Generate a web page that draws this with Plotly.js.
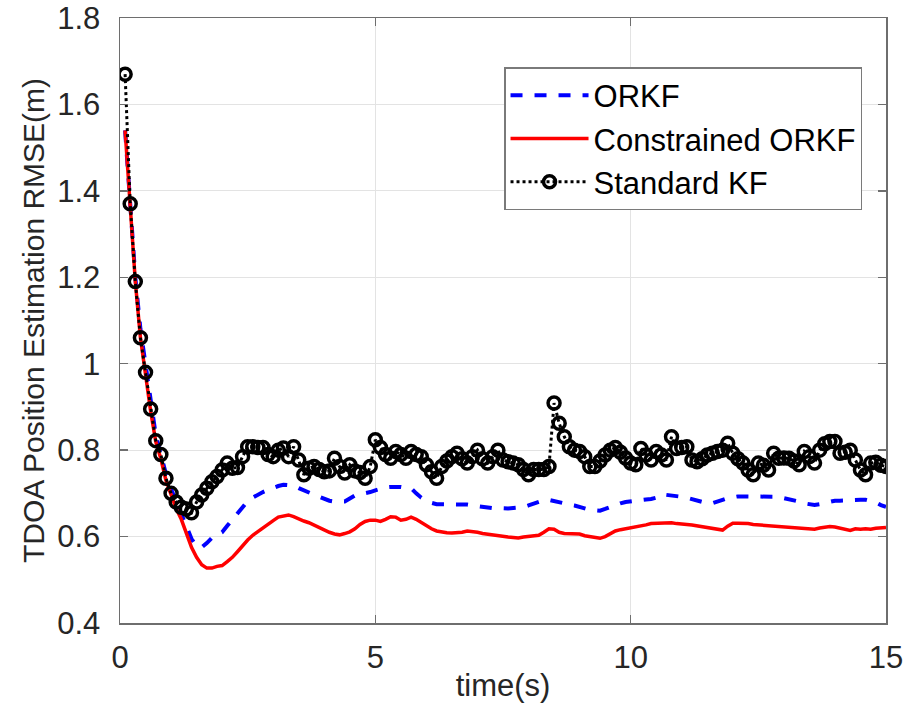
<!DOCTYPE html>
<html>
<head>
<meta charset="utf-8">
<script src="https://cdn.plot.ly/plotly-3.0.1.min.js"></script>
<style>html,body{margin:0;padding:0;background:#fff;}#chart{width:907px;height:708px;}</style>
</head>
<body>
<div id="chart"></div>
<script>
// time axis: 0.1 s steps from 0.1 to 15.0
const timeStart = 0.1, timeStep = 0.1;

const orkf = [
 1.54,1.38,1.20,1.08,0.995,0.91,0.835,0.79,0.745,0.71,
 0.68,0.655,0.625,0.595,0.577,0.575,0.585,0.597,0.604,0.61,
 0.625,0.64,0.655,0.67,0.682,0.69,0.697,0.703,0.708,0.713,
 0.717,0.72,0.72,0.718,0.712,0.706,0.702,0.697,0.692,0.687,
 0.683,0.681,0.68,0.681,0.688,0.695,0.698,0.70,0.703,0.707,
 0.711,0.714,0.715,0.716,0.715,0.713,0.712,0.70,0.69,0.684,
 0.678,0.675,0.675,0.674,0.674,0.674,0.674,0.674,0.672,0.67,
 0.668,0.667,0.666,0.666,0.665,0.665,0.666,0.666,0.668,0.672,
 0.676,0.68,0.684,0.685,0.682,0.678,0.675,0.674,0.672,0.668,
 0.665,0.662,0.661,0.66,0.664,0.669,0.674,0.677,0.68,0.682,
 0.684,0.685,0.686,0.687,0.69,0.698,0.697,0.695,0.694,0.692,
 0.69,0.687,0.682,0.679,0.677,0.677,0.68,0.685,0.689,0.692,
 0.693,0.693,0.693,0.694,0.694,0.694,0.694,0.693,0.692,0.689,
 0.687,0.685,0.681,0.677,0.674,0.673,0.675,0.678,0.681,0.683,
 0.683,0.684,0.684,0.685,0.685,0.685,0.683,0.679,0.673,0.669
];

const constrainedOrkf = [
 1.54,1.37,1.19,1.06,0.975,0.89,0.82,0.78,0.73,0.695,
 0.665,0.64,0.605,0.575,0.552,0.535,0.527,0.527,0.531,0.533,
 0.542,0.552,0.565,0.58,0.592,0.603,0.612,0.62,0.628,0.637,
 0.645,0.648,0.65,0.646,0.64,0.636,0.632,0.626,0.62,0.615,
 0.61,0.606,0.604,0.607,0.611,0.618,0.628,0.635,0.638,0.638,
 0.635,0.64,0.646,0.645,0.638,0.64,0.645,0.64,0.632,0.625,
 0.618,0.613,0.61,0.609,0.608,0.608,0.61,0.613,0.612,0.61,
 0.607,0.605,0.603,0.601,0.60,0.599,0.598,0.597,0.599,0.60,
 0.601,0.603,0.61,0.618,0.617,0.61,0.607,0.607,0.606,0.606,
 0.602,0.60,0.598,0.596,0.60,0.606,0.613,0.616,0.618,0.619,
 0.621,0.623,0.627,0.63,0.631,0.632,0.633,0.632,0.63,0.628,
 0.628,0.627,0.625,0.624,0.622,0.62,0.617,0.615,0.624,0.631,
 0.631,0.631,0.63,0.628,0.627,0.626,0.625,0.625,0.624,0.623,
 0.622,0.621,0.62,0.618,0.617,0.617,0.62,0.622,0.623,0.622,
 0.62,0.616,0.614,0.618,0.617,0.618,0.617,0.619,0.62,0.621
];

const standardKf = [
 1.67,1.37,1.19,1.06,0.98,0.895,0.822,0.79,0.735,0.70,
 0.68,0.668,0.664,0.655,0.68,0.696,0.712,0.727,0.739,0.754,
 0.77,0.758,0.76,0.785,0.808,0.808,0.806,0.806,0.79,0.785,
 0.80,0.805,0.785,0.808,0.777,0.743,0.758,0.762,0.755,0.75,
 0.752,0.781,0.762,0.747,0.766,0.752,0.748,0.735,0.762,0.824,
 0.806,0.79,0.781,0.797,0.79,0.781,0.797,0.79,0.785,0.766,
 0.75,0.735,0.762,0.775,0.785,0.793,0.78,0.77,0.785,0.80,
 0.78,0.77,0.785,0.80,0.777,0.773,0.77,0.766,0.755,0.743,
 0.755,0.755,0.755,0.762,0.909,0.862,0.831,0.808,0.80,0.797,
 0.785,0.762,0.762,0.775,0.789,0.80,0.806,0.795,0.782,0.77,
 0.766,0.804,0.789,0.777,0.797,0.789,0.777,0.831,0.804,0.806,
 0.808,0.777,0.773,0.78,0.789,0.793,0.797,0.80,0.816,0.793,
 0.78,0.77,0.754,0.743,0.77,0.765,0.754,0.793,0.781,0.782,
 0.781,0.775,0.766,0.797,0.785,0.77,0.80,0.815,0.82,0.82,
 0.793,0.795,0.80,0.777,0.754,0.743,0.77,0.772,0.765,0.762
];

const seriesNames = ["ORKF", "Constrained ORKF", "Standard KF"];
const xTickVals = [0, 5, 10, 15];
const yTickVals = [0.4, 0.6, 0.8, 1.0, 1.2, 1.4, 1.6, 1.8];
const yTickText = ["0.4", "0.6", "0.8", "1", "1.2", "1.4", "1.6", "1.8"];

const time = standardKf.map((_, i) => +(timeStart + i * timeStep).toFixed(1));

const tickFont = {family: "'Liberation Sans Narrow', 'Liberation Sans', Arial, sans-serif", size: 31, color: "#262626"};

const traces = [
  {x: time, y: orkf, name: seriesNames[0], mode: "lines", type: "scatter",
   line: {color: "#0000ff", width: 4, dash: "dash"}},
  {x: time, y: constrainedOrkf, name: seriesNames[1], mode: "lines", type: "scatter",
   line: {color: "#ff0000", width: 3.5}},
  {x: time, y: standardKf, name: seriesNames[2], mode: "lines+markers", type: "scatter",
   line: {color: "#000000", width: 3, dash: "dot"},
   marker: {symbol: "circle-open", size: 12, color: "#000000", line: {width: 3.5, color: "#000000"}}}
];

const layout = {
  width: 907, height: 708,
  margin: {l: 120, r: 21, t: 18, b: 85},
  paper_bgcolor: "#ffffff", plot_bgcolor: "#ffffff",
  showlegend: true,
  legend: {x: 0.9687, y: 0.919, xanchor: "right", yanchor: "top",
    bgcolor: "#ffffff", bordercolor: "#7a7a7a", borderwidth: 1.5,
    font: {family: "'Liberation Sans', Arial, sans-serif", size: 31, color: "#000000"},
    itemwidth: 78, tracegroupgap: 0},
  xaxis: {range: [0, 15], tickvals: xTickVals, ticktext: xTickVals.map(String),
    showgrid: true, gridcolor: "#e3e3e3", gridwidth: 1,
    showline: true, linecolor: "#6e6e6e", linewidth: 1.5, mirror: "ticks",
    ticks: "inside", ticklen: 8, tickcolor: "#6e6e6e", tickwidth: 1.5,
    zeroline: false, tickfont: tickFont, ticklabelstandoff: 6,
    title: {text: "time(s)", font: {family: "'Liberation Sans Narrow', 'Liberation Sans', Arial, sans-serif", size: 31, color: "#262626"}, standoff: 0}},
  yaxis: {range: [0.4, 1.8], tickvals: yTickVals, ticktext: yTickText,
    showgrid: true, gridcolor: "#e3e3e3", gridwidth: 1,
    showline: true, linecolor: "#6e6e6e", linewidth: 1.5, mirror: "ticks",
    ticks: "inside", ticklen: 8, tickcolor: "#6e6e6e", tickwidth: 1.5,
    zeroline: false, tickfont: tickFont, ticklabelstandoff: 12,
    title: {text: "TDOA Position Estimation RMSE(m)", font: {family: "'Liberation Sans', Arial, sans-serif", size: 30, color: "#262626"}, standoff: 3}}
};

Plotly.newPlot("chart", traces, layout, {displayModeBar: false, staticPlot: true});
</script>
</body>
</html>
